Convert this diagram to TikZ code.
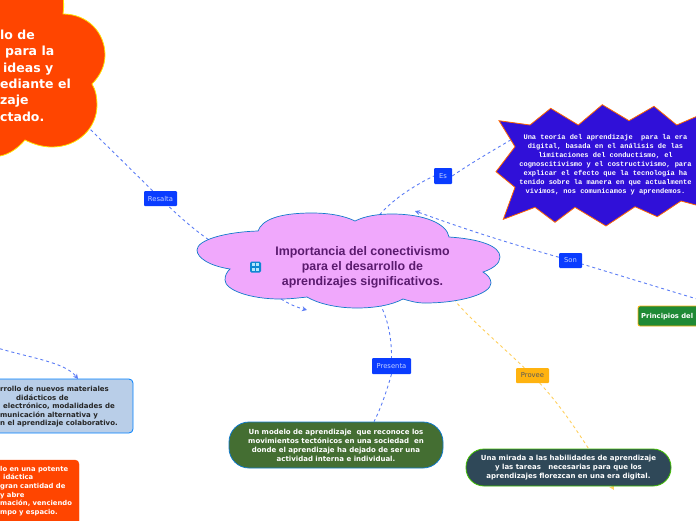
\documentclass[tikz,border=0pt]{standalone}
\usepackage{fontspec}
\setmainfont{DejaVu Sans}
\newfontfamily\arialfont{Liberation Sans}
\newfontfamily\monofont{Liberation Mono}
\usepackage{xcolor}
\usetikzlibrary{arrows.meta,positioning}
\definecolor{linkblue}{HTML}{5B7CF5}
\definecolor{linkgold}{HTML}{FFCF5C}
\definecolor{tagblue}{HTML}{0A3CFF}
\definecolor{tagtext}{HTML}{C4D2FF}
\definecolor{tagamber}{HTML}{FFB30F}
\definecolor{flame}{HTML}{FF4500}
\definecolor{mauve}{HTML}{F0A8FC}
\definecolor{plum}{HTML}{5A1A6E}
\definecolor{indigo}{HTML}{3010D8}
\definecolor{moss}{HTML}{446E32}
\definecolor{slate}{HTML}{2F4858}
\definecolor{forest}{HTML}{1F8A35}
\definecolor{powder}{HTML}{B9CEE8}
\pgfdeclarelayer{links}
\pgfsetlayers{links,main}

\begin{document}
\begin{tikzpicture}[x=1pt,y=-1pt,
 tagbox/.style={fill=tagblue,text=tagtext,rounded corners=1pt,font=\fontsize{6.8}{7}\selectfont,
 minimum height=15pt,inner sep=0pt},
 pill/.style={draw=#1,line width=0.8pt,rounded corners=20pt,text=white,align=center,
 font=\bfseries\fontsize{7}{9}\selectfont,inner sep=0pt},
 cardtext/.style={align=left,font=\bfseries\fontsize{7}{8.5}\selectfont,inner sep=0pt},
 link/.style={draw=linkblue,dashed,dash pattern=on 3pt off 3pt,line width=0.9pt},
 goldlink/.style={draw=linkgold,dashed,dash pattern=on 3pt off 3pt,line width=0.9pt},
 arr/.style={-{Stealth[length=5pt,width=5pt]}}]
\useasboundingbox (0,0) rectangle (696,520);
\clip (0,0) rectangle (696,520);
% orange cloud, runs off the page
\draw[fill=flame,draw=yellow!85!orange,line width=0.8pt] (-10,-10) -- (62,-10) .. controls (64,0) and (64,8) .. (63,14)
 .. controls (88,14) and (105,33) .. (105,55) .. controls (105,66) and (100,76) .. (92,84)
 .. controls (96,90) and (97,98) .. (97,105) .. controls (97,128) and (78,147) .. (52,147)
 .. controls (42,147) and (33,144) .. (25,140) .. controls (18,148) and (10,154) .. (0,156)
 -- (-10,157) -- cycle;
\node[anchor=north west,align=left,text=white,inner sep=0pt,font=\bfseries\fontsize{12.5}{16.4}\selectfont] (goal) at (0,29.5)
 {lo de\\\hspace*{5pt}para la\\\hspace*{3pt}ideas y\\ediante el\\zaje\\ctado.};
% central cloud
\draw[fill=mauve,draw=cyan!60!blue,line width=0.7pt] (258,231) .. controls (262,220) and (278,213) .. (312,213)
 .. controls (330,213) and (345,216) .. (355,221)
 .. controls (365,216) and (378,214) .. (392,214) .. controls (425,214) and (447,224) .. (449,237)
 .. controls (480,239) and (500,246) .. (500,257) .. controls (500,264) and (492,269) .. (483,272)
 .. controls (488,275) and (491,279) .. (491,283) .. controls (491,294) and (460,303) .. (425,303)
 .. controls (416,303) and (410,301) .. (403,299)
 .. controls (392,305) and (375,308) .. (357,308) .. controls (335,308) and (317,303) .. (307,297)
 .. controls (298,298) and (290,299) .. (280,299) .. controls (250,299) and (225,290) .. (225,280)
 .. controls (225,275) and (227,272) .. (230,269)
 .. controls (210,266) and (197,258) .. (197,250) .. controls (197,240) and (225,232) .. (258,231) -- cycle;
\node[align=center,text=plum,inner sep=0pt,font=\arialfont\bfseries\fontsize{12.4}{15}\selectfont] (topic) at (362.5,267)
 {Importancia del conectivismo\\para el desarrollo de\\aprendizajes significativos.};
\node[fill=cyan!70!blue,rounded corners=1.5pt,minimum size=11pt,inner sep=0pt] (icon) at (255.5,267) {};
\foreach \dx in {-2.2,2.2} \foreach \dy in {-2.2,2.2}
 \fill[white!70!cyan] ([shift={(\dx-1.4,\dy-1.6)}]icon.center) rectangle ++(2.8,3.2);
% starred box
\draw[fill=indigo,draw=orange!80!red,line width=0.8pt] (499,120.7) -- (530,125) -- (550.7,108.3) -- (578.3,125)
 -- (602.3,104.7) -- (629,120.7) -- (654,106.3) -- (676.7,125) -- (696,116.7) -- (710,110) -- (710,209) -- (696,205)
 -- (681,201) -- (657.3,216.7) -- (635,206.7) -- (606,226) -- (575,207.3) -- (555,222.3) -- (535,207.3)
 -- (503.3,219.3) -- (515,187.3) -- (496,171.7) -- (515,146.7) -- cycle;
\node[align=center,text=white,inner sep=0pt,font=\monofont\bfseries\fontsize{7}{9}\selectfont] (theory) at (605.5,165)
 {Una teoría del aprendizaje~ para la era\\digital, basada en el análisis de las\\limitaciones del conductismo, el\\cognoscitivismo y el costructivismo, para\\explicar el efecto que la tecnología ha\\tenido sobre la manera en que actualmente\\vivimos, nos comunicamos y aprendemos.};
% tags
\node[tagbox,minimum width=33pt] (resalta) at (160.5,198.5) {Resalta};
\node[tagbox,minimum width=18pt,minimum height=16pt] (es) at (443,176) {Es};
\node[tagbox,minimum width=23pt] (son) at (570.5,260.5) {Son};
\node[tagbox,minimum width=39pt,minimum height=16pt] (presenta) at (391.5,366) {Presenta};
\node[tagbox,fill=tagamber,text=black!65,minimum width=33pt] (provee) at (532.5,375.5) {Provee};
% main boxes
\node[pill=cyan!60!blue,fill=moss,minimum width=214pt,minimum height=46pt] (model) at (336,445)
 {Un modelo de aprendizaje~ que reconoce los\\movimientos tectónicos en una sociedad~ en\\donde el aprendizaje ha dejado de ser una\\actividad interna e individual.};
\node[pill=green!50!olive,fill=slate,rounded corners=18pt,minimum width=205pt,minimum height=37pt] (skills) at (568.5,467.5)
 {Una mirada a las habilidades de aprendizaje\\y las tareas~ ~necesarias para que los\\aprendizajes florezcan en una era digital.};
\draw[fill=forest,draw=tagamber,line width=0.8pt,rounded corners=2pt] (638,306) rectangle (710,326);
\node[anchor=west,text=white,inner sep=0pt,font=\bfseries\fontsize{6.8}{8}\selectfont] (rules) at (641,316.5) {Principios del};
\draw[fill=powder,draw=blue!50!cyan,line width=0.8pt,rounded corners=4pt] (-10,379) rectangle (133,433);
\node[anchor=north west,cardtext,text=black!85] (materials) at (0,386)
 {rrollo de nuevos materiales\\\hspace*{16pt}didácticos de\\\hspace*{3pt}electrónico, modalidades de\\municación alternativa y\\n el aprendizaje colaborativo.};
\draw[fill=flame,draw=flame,rounded corners=4pt] (-10,460) rectangle (79,530);
\node[anchor=north west,cardtext,text=white,font=\bfseries\fontsize{6.8}{8.6}\selectfont] (potent) at (0,466)
 {lo en una potente\\\hspace*{3pt}idáctica\\gran cantidad de\\y abre\\mación, venciendo\\mpo y espacio.};
% connectors stay under the shapes
\coordinate (sonend) at (415,211);
\coordinate (stubstart) at (281,299);
\coordinate (stubend) at (307,310);
\coordinate (offleft) at (-6,347);
\coordinate (cardtop) at (78,379);
\coordinate (offright) at (710,303);
\coordinate (skillsend) at (614,490);
\begin{pgfonlayer}{links}
\draw[link] (icon) to[bend left=8] (resalta);
\draw[link] (resalta) -- (goal);
\draw[link] (topic.north) .. controls (368,220) and (395,195) .. (es.west);
\draw[link] (es.east) .. controls (480,157) and (520,135) .. (theory);
\draw[link] (offright) -- (son);
\draw[link] (topic.south) .. controls (383,295) and (392,330) .. (presenta.north);
\draw[link] (presenta.south) .. controls (387,390) and (381,408) .. ([xshift=38pt]model.north);
\draw[goldlink] (topic.south east) .. controls (445,298) and (490,335) .. (provee);
\draw[goldlink,arr] (provee) .. controls (565,410) and (590,450) .. (skillsend);
\end{pgfonlayer}
\draw[link,arr] (son) to[bend left=2] (sonend);
\draw[link,arr] (stubstart) to[bend right=8] (stubend);
\draw[link,arr] (offleft) .. controls (30,358) and (65,362) .. (cardtop);
\end{tikzpicture}
\end{document}
